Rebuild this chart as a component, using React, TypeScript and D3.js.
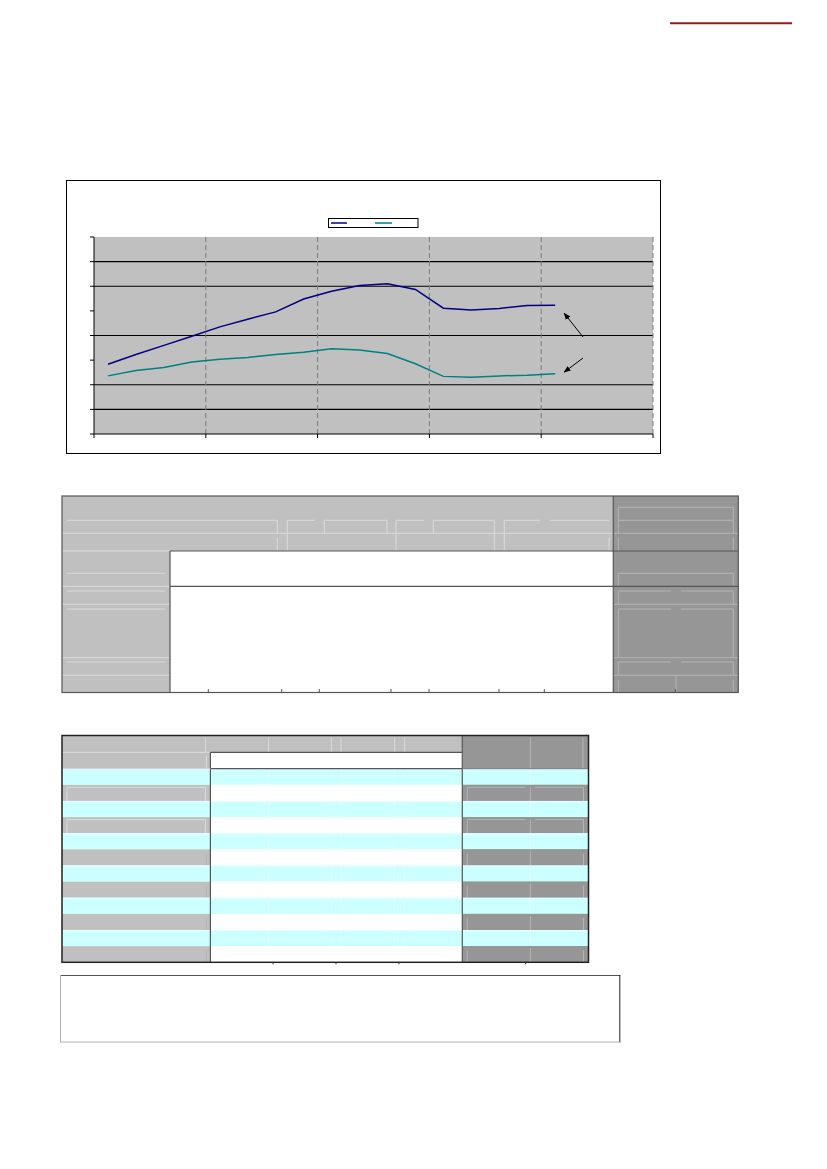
import React from 'react';
import * as d3 from 'd3';

// Quarterly categories (5 years x 4 quarters); only the first 17 quarters carry data
const years = ['Y1', 'Y2', 'Y3', 'Y4', 'Y5'];
const quarters = years.flatMap((y) => ['Q1', 'Q2', 'Q3', 'Q4'].map((q) => `${y}${q}`));

// Series values (axis units 0..8)
const seriesUpper = [2.83, 3.23, 3.6, 3.97, 4.35, 4.66, 4.96, 5.48, 5.8, 6.03, 6.1, 5.87, 5.11, 5.04, 5.1, 5.22, 5.23];
const seriesLower = [2.36, 2.58, 2.7, 2.92, 3.04, 3.11, 3.23, 3.32, 3.46, 3.41, 3.27, 2.85, 2.34, 2.3, 2.36, 2.39, 2.45];

const yTicks = [0, 1, 2, 3, 4, 5, 6, 7, 8];
const solidGrid = [1, 2, 4, 6, 7];

// Second table: 12 body rows, alternating shaded
const tableRows = Array.from({ length: 12 }, (_, i) => (i % 2 === 0 ? 'tint' : 'plain'));

const LIGHT = '#c0c0c0';
const DARK = '#969696';
const CYAN = '#ccffff';
const FAINT = '#dadada';
const FAINT_DARK = '#b4b4b4';
const BORDER = '#555555';

type Seg = [number, number, number, number];

const Segs: React.FC<{ segs: Seg[]; stroke: string; width?: number }> = ({ segs, stroke, width = 1 }) => (
  <g stroke={stroke} strokeWidth={width} fill="none">
    {segs.map(([x1, y1, x2, y2], i) => (
      <line key={i} x1={x1} y1={y1} x2={x2} y2={y2} />
    ))}
  </g>
);

const Chart: React.FC = () => {
  const x = d3.scaleBand<string>().domain(quarters).range([94, 653]);
  const y = d3.scaleLinear().domain([0, 8]).range([434, 237]);
  const cx = (i: number) => (x(quarters[i]) ?? 0) + x.bandwidth() / 2;
  const line = d3
    .line<number>()
    .x((_, i) => cx(i))
    .y((d) => y(d));
  const yearEdges = years.map((yr) => x(`${yr}Q1`) ?? 0).concat([653]);

  const nLast = seriesUpper.length - 1;
  const upTip = [cx(nLast) + 9, y(seriesUpper[nLast]) + 8];
  const loTip = [cx(nLast) + 9, y(seriesLower[nLast]) - 1.5];

  return (
    <g>
      <rect x={66.5} y={180.5} width={594} height={273} fill="#fff" stroke="#000" />
      <rect x={94} y={237} width={559} height={197} fill={LIGHT} />
      {solidGrid.map((v) => (
        <line key={v} x1={94} x2={653} y1={y(v)} y2={y(v)} stroke="#000" strokeWidth={1.2} />
      ))}
      {yearEdges.slice(1).map((xe, i) => (
        <line key={i} x1={xe} x2={xe} y1={237} y2={434} stroke="#7a7a7a" strokeDasharray="5 3" />
      ))}
      <line x1={94} x2={94} y1={237} y2={434} stroke="#000" />
      <line x1={94} x2={653} y1={434} y2={434} stroke="#000" />
      {yTicks.map((v) => (
        <line key={v} x1={90} x2={94} y1={y(v)} y2={y(v)} stroke="#000" />
      ))}
      {yearEdges.map((xe, i) => (
        <line key={i} x1={xe} x2={xe} y1={434} y2={438} stroke="#000" />
      ))}
      <path d={line(seriesUpper) ?? ''} fill="none" stroke="#000080" strokeWidth={1.5} />
      <path d={line(seriesLower) ?? ''} fill="none" stroke="#008080" strokeWidth={1.5} />

      <defs>
        <marker id="arr" viewBox="0 0 10 10" refX="9" refY="5" markerWidth="7" markerHeight="7" orient="auto">
          <path d="M0,1 L10,5 L0,9 Z" fill="#000" />
        </marker>
      </defs>
      <line x1={583} y1={337} x2={upTip[0]} y2={upTip[1]} stroke="#000" markerEnd="url(#arr)" />
      <line x1={583} y1={358} x2={loTip[0]} y2={loTip[1]} stroke="#000" markerEnd="url(#arr)" />

      <rect x={328.5} y={218.5} width={89.5} height={9} fill="#fff" stroke="#000" />
      <line x1={331} x2={347} y1={223} y2={223} stroke="#000080" strokeWidth={1.5} />
      <line x1={375} x2={392} y1={223} y2={223} stroke="#008080" strokeWidth={1.5} />
    </g>
  );
};

const TableOne: React.FC = () => {
  const faint: Seg[] = [
    [67, 520.3, 277.3, 520.3], [277.3, 520.3, 277.3, 533.3],
    [287.3, 520.3, 315, 520.3], [287.3, 520.3, 287.3, 551],
    [324.3, 520.3, 387, 520.3], [324.3, 520.3, 324.3, 533.3], [387, 520.3, 387, 533.3],
    [396, 520.3, 424, 520.3], [396, 520.3, 396, 551],
    [433.3, 520.3, 494.3, 520.3], [433.3, 520.3, 433.3, 533.3], [494.3, 520.3, 494.3, 551],
    [504.3, 520.3, 540, 520.3], [504.3, 520.3, 504.3, 551],
    [550, 520.3, 609, 520.3],
    [62, 533.3, 613, 533.3], [277.3, 538, 277.3, 551], [609, 538, 609, 551],
    [62, 551, 170, 551],
    [67, 573.3, 165, 573.3], [62, 586.3, 170, 586.3], [67, 591, 165, 591],
    [62, 604.3, 170, 604.3], [67, 609, 165, 609],
    [62, 657.7, 170, 657.7], [67, 662, 165, 662], [62, 675.3, 170, 675.3],
  ];
  const faintDark: Seg[] = [
    [618.3, 507.3, 733.3, 507.3], [618.3, 507.3, 618.3, 533.3], [733.3, 507.3, 733.3, 533.3],
    [618.3, 520.3, 733.3, 520.3], [613, 533.3, 738, 533.3],
    [618.3, 538, 618.3, 551], [733.3, 538, 733.3, 551],
    [618.3, 573.3, 733.3, 573.3], [618.3, 573.3, 618.3, 586.3], [733.3, 573.3, 733.3, 586.3],
    [618.3, 591, 671, 591], [681, 591, 733.3, 591], [618.3, 591, 618.3, 604.3], [733.3, 591, 733.3, 604.3],
    [613, 604.3, 738, 604.3],
    [618.3, 609, 671, 609], [681, 609, 733.3, 609],
    [618.3, 609, 618.3, 657.7], [733.3, 609, 733.3, 657.7],
    [613, 657.7, 738, 657.7],
    [618.3, 662, 671, 662], [681, 662, 733.3, 662], [618.3, 662, 618.3, 675.3], [733.3, 662, 733.3, 675.3],
    [613, 675.3, 738, 675.3], [618.3, 680, 618.3, 692], [733.3, 680, 733.3, 692], [676, 675.3, 676, 692],
  ];
  const ticks = [208.3, 281.7, 319.3, 391, 429, 499, 544.3, 675.3];
  return (
    <g>
      <rect x={62} y={496} width={676} height={196.5} fill={LIGHT} />
      <rect x={613.3} y={496} width={125} height={196.5} fill={DARK} />
      <rect x={170} y={551} width={443.3} height={141.5} fill="#fff" />
      <Segs segs={faint} stroke={FAINT} />
      <Segs segs={faintDark} stroke={FAINT_DARK} />
      <Segs
        segs={[
          [170, 551, 738, 551],
          [170, 586.3, 738, 586.3],
          [170, 551, 170, 692.5],
          [613.3, 496, 613.3, 692.5],
        ]}
        stroke={BORDER}
        width={1.2}
      />
      <rect x={62} y={496} width={676.3} height={196.5} fill="none" stroke={BORDER} strokeWidth={1.2} />
      {ticks.map((t) => (
        <line key={t} x1={t} x2={t} y1={689} y2={692.5} stroke={BORDER} />
      ))}
    </g>
  );
};

const TableTwo: React.FC = () => {
  const top = 735.5;
  const h1 = 752.3;
  const h2 = 768.7;
  const bottom = 962.3;
  const rowH = (bottom - h2) / tableRows.length;
  const left = 62;
  const c1 = 210.4;
  const c2 = 462.3;
  const right = 588.5;
  const split = 530.4;
  const innerV = [268.5, 331.4, 341, 394.6, 404.6];

  return (
    <g>
      <rect x={left} y={top} width={c2 - left} height={h1 - top} fill={LIGHT} />
      <rect x={c2} y={top} width={right - c2} height={bottom - top} fill={DARK} />
      <rect x={left} y={h1} width={c1 - left} height={h2 - h1} fill={LIGHT} />
      <rect x={c1} y={h1} width={c2 - c1} height={h2 - h1} fill="#fff" />
      {[205.7, ...innerV].map((v) => (
        <line key={v} x1={v} x2={v} y1={top + 2} y2={h1} stroke={FAINT} />
      ))}
      {[split, 583].map((v) => (
        <line key={v} x1={v} x2={v} y1={top + 2} y2={h2} stroke={FAINT_DARK} />
      ))}
      <line x1={left} x2={c1} y1={h1} y2={h1} stroke={FAINT} />
      <line x1={c1 - 4} x2={c1 - 4} y1={h1 + 3} y2={h2} stroke={FAINT} />
      {tableRows.map((kind, i) => {
        const ry = h2 + i * rowH;
        if (kind === 'tint') {
          return (
            <g key={i}>
              <rect x={left} y={ry} width={right - left} height={rowH} fill={CYAN} />
              <line x1={left} x2={right} y1={ry + 0.5} y2={ry + 0.5} stroke="#e8ffff" />
              {innerV.map((v) => (
                <line key={v} x1={v} x2={v} y1={ry + 2} y2={ry + rowH} stroke="#e0ffff" />
              ))}
              <line x1={split} x2={split} y1={ry + 2} y2={ry + rowH} stroke="#e0ffff" />
            </g>
          );
        }
        const boxed = i < 4;
        return (
          <g key={i}>
            <rect x={left} y={ry} width={c1 - left} height={rowH} fill={LIGHT} />
            <rect x={c1} y={ry} width={c2 - c1} height={rowH} fill="#fff" />
            <rect x={c2} y={ry} width={right - c2} height={rowH} fill={DARK} />
            {boxed ? (
              <>
                <path
                  d={`M${left + 5},${ry + rowH} V${ry + 2.5} H${c1 - 5} V${ry + rowH}`}
                  fill="none"
                  stroke={FAINT}
                />
                <path
                  d={`M${c2 + 5},${ry + rowH} V${ry + 2.5} H${split - 5} M${split + 5},${ry + 2.5} H${right - 5} V${ry + rowH} M${split},${ry + 2.5} V${ry + rowH}`}
                  fill="none"
                  stroke={FAINT_DARK}
                />
              </>
            ) : (
              <path
                d={`M${c1 - 4},${ry + 4} V${ry + rowH} M${c2 + 5},${ry + 4} V${ry + rowH} M${split},${ry + 2} V${ry + rowH} M${right - 5},${ry + 4} V${ry + rowH}`}
                fill="none"
                stroke={FAINT_DARK}
              />
            )}
          </g>
        );
      })}
      <Segs
        segs={[
          [c1, h1, c2, h1],
          [c1, h2, c2, h2],
          [c1, h1, c1, bottom],
          [c2, top, c2, bottom],
        ]}
        stroke={BORDER}
        width={1.2}
      />
      <line x1={left} x2={c1} y1={h2} y2={h2} stroke="#d0d0d0" />
      <line x1={c2} x2={right} y1={h2} y2={h2} stroke="#777" />
      <rect x={left} y={top} width={right - left} height={bottom - top} fill="none" stroke="#222" strokeWidth={1.5} />
      {[273, 336, 399, 525.6].map((t) => (
        <line key={t} x1={t} x2={t} y1={bottom} y2={bottom + 2} stroke="#333" />
      ))}
    </g>
  );
};

const NoteBox: React.FC = () => (
  <g>
    <rect x={60} y={975} width={560.3} height={67.5} fill="#fff" />
    <line x1={60} x2={620.3} y1={975.5} y2={975.5} stroke={BORDER} />
    <line x1={619.8} x2={619.8} y1={975} y2={1042.5} stroke="#222" />
    <line x1={60.5} x2={60.5} y1={975} y2={1042.5} stroke="#b0b0b0" />
    <line x1={60} x2={620.3} y1={1042} y2={1042} stroke="#b0b0b0" />
  </g>
);

const App: React.FC = () => (
  <svg
    width={827}
    height={1169}
    viewBox="0 0 827 1169"
    style={{ position: 'absolute', left: 0, top: 0, background: '#fff' }}
  >
    <line x1={670} x2={792} y1={23.3} y2={23.3} stroke="#8e1c1c" strokeWidth={2} />
    <Chart />
    <TableOne />
    <TableTwo />
    <NoteBox />
  </svg>
);

export default App;
